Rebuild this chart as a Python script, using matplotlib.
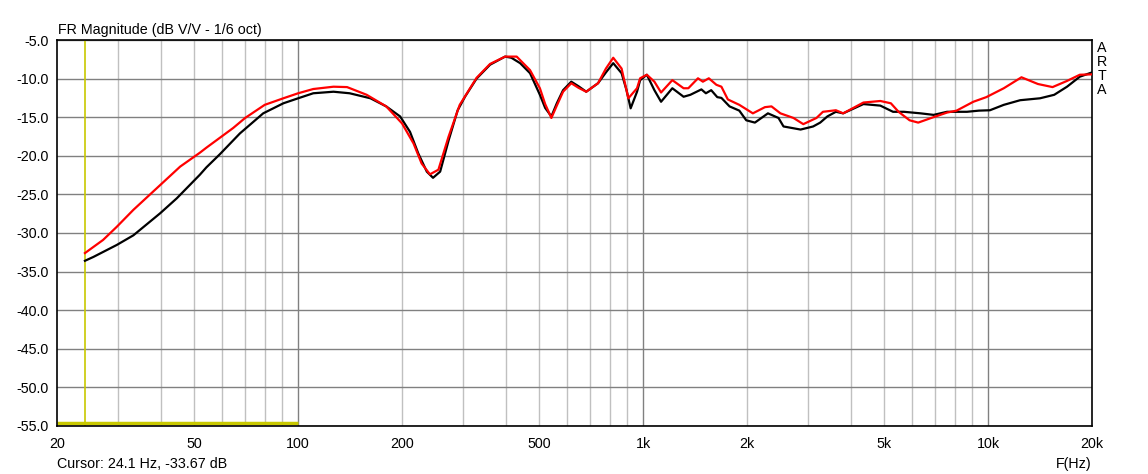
import numpy as np
import matplotlib
matplotlib.use('Agg')
import matplotlib.pyplot as plt
from matplotlib.ticker import FixedLocator, FuncFormatter

plt.rcParams['font.family'] = ['Liberation Sans', 'DejaVu Sans']

# black trace
freq_black = [24.1, 25.5, 29.8, 33.3, 39.8, 44.5, 51.9, 54.2, 59.3, 67.8, 79.2, 90.6, 100, 110.6, 126.6,
              141, 162, 180, 197.5, 211, 223, 236, 246, 258, 273, 290, 305, 329, 360, 398, 415, 440, 470,
              502, 520, 542, 562, 586, 619, 650, 684, 740, 780, 819, 866, 895, 920, 960, 980, 1025, 1078,
              1127, 1215, 1310, 1370, 1475, 1520, 1575, 1640, 1686, 1780, 1900, 1990, 2108, 2300, 2468,
              2552, 2860, 3110, 3260, 3420, 3620, 3800, 4350, 4870, 5300, 5700, 6370, 6950, 7600, 8680,
              9400, 10120, 11100, 12380, 14140, 15540, 16930, 18440, 20000]
db_black = [-33.6, -33.1, -31.55, -30.3, -27.45, -25.5, -22.45, -21.5, -19.8, -17.1, -14.5, -13.2, -12.55,
            -11.9, -11.7, -11.9, -12.55, -13.6, -14.9, -16.9, -19.7, -22.05, -22.85, -22.05, -18.0, -14.1,
            -12.3, -10.0, -8.2, -7.15, -7.3, -8.0, -9.3, -12.1, -13.8, -14.9, -13.2, -11.5, -10.4, -11.0,
            -11.7, -10.6, -9.2, -8.0, -9.3, -11.5, -13.85, -11.7, -10.2, -9.5, -11.5, -13.0, -11.25,
            -12.35, -12.1, -11.4, -11.9, -11.5, -12.4, -12.5, -13.6, -14.15, -15.4, -15.7, -14.5, -15.1,
            -16.2, -16.6, -16.2, -15.7, -14.9, -14.3, -14.5, -13.3, -13.5, -14.3, -14.3, -14.5, -14.7,
            -14.3, -14.3, -14.15, -14.1, -13.4, -12.8, -12.55, -12.1, -11.05, -9.75, -9.2]

# red trace
freq_red = [24.1, 27.2, 29.8, 33.3, 39.8, 45.5, 51.9, 54.2, 60, 64.8, 70.2, 80, 90.6, 100, 110.6, 126.6,
            138.6, 158, 180, 200, 216, 228, 241, 255, 273, 294, 329, 360, 398, 430, 470, 502, 520, 542,
            562, 586, 619, 650, 684, 740, 780, 819, 866, 906, 960, 980, 1025, 1078, 1127, 1215, 1310,
            1352, 1442, 1490, 1550, 1630, 1686, 1760, 1900, 2080, 2254, 2355, 2500, 2728, 2912, 3180,
            3320, 3620, 3800, 4350, 4870, 5225, 5500, 5920, 6270, 6840, 7600, 8100, 9060, 9880, 11100,
            12490, 13940, 15370, 16930, 18440, 20000]
db_red = [-32.6, -30.9, -29.2, -27.0, -23.8, -21.4, -19.6, -18.95, -17.5, -16.4, -15.1, -13.4, -12.55,
          -11.9, -11.35, -11.05, -11.1, -12.1, -13.6, -15.8, -18.4, -21.0, -22.4, -21.8, -17.5, -13.4,
          -9.9, -8.1, -7.15, -7.15, -8.9, -11.25, -13.3, -15.1, -13.5, -11.7, -10.6, -11.2, -11.7, -10.6,
          -8.7, -7.3, -8.7, -12.55, -11.25, -9.96, -9.5, -10.4, -11.8, -10.2, -11.25, -11.25, -9.96,
          -10.4, -9.96, -10.8, -11.05, -12.7, -13.4, -14.5, -13.7, -13.6, -14.5, -15.1, -15.9, -15.1,
          -14.3, -14.1, -14.5, -13.1, -12.9, -13.2, -14.3, -15.4, -15.7, -15.1, -14.4, -14.15, -13.0,
          -12.4, -11.25, -9.83, -10.7, -11.1, -10.3, -9.5, -9.45]

cursor_freq = 24.1
cursor_db = -33.67
y_ticks = np.arange(-55, -4, 5)
x_label_freqs = [20, 50, 100, 200, 500, 1000, 2000, 5000, 10000, 20000]
x_labels = ['20', '50', '100', '200', '500', '1k', '2k', '5k', '10k', '20k']

fs = 10.3
fig = plt.figure(figsize=(11.48, 4.74), dpi=100)
ax = fig.add_axes([57 / 1148, 1 - 426 / 474, (1092 - 57) / 1148, (426 - 40) / 474])

ax.set_xscale('log')
ax.set_xlim(20, 20000)
ax.set_ylim(-55, -5)

# grid: dark at decades and dB steps, light at the other log lines
major_x = [100, 1000, 10000]
minor_x = [m * d for d in [10, 100, 1000, 10000] for m in range(2, 10) if 20 < m * d < 20000]
for f in minor_x:
    ax.axvline(f, color='#c0c0c0', lw=1.0, zorder=1)
for f in major_x:
    ax.axvline(f, color='#808080', lw=1.0, zorder=1)
for v in y_ticks:
    ax.axhline(v, color='#808080', lw=1.0, zorder=1)

ax.xaxis.set_major_locator(FixedLocator(x_label_freqs))
ax.xaxis.set_minor_locator(FixedLocator([]))
ax.xaxis.set_major_formatter(FuncFormatter(lambda v, p: x_labels[x_label_freqs.index(int(round(v)))]
                                           if int(round(v)) in x_label_freqs else ''))
ax.yaxis.set_major_locator(FixedLocator(y_ticks))
ax.yaxis.set_major_formatter(FuncFormatter(lambda v, p: f'{v:.1f}'))
ax.tick_params(axis='both', length=0, labelsize=fs, colors='black')
ax.tick_params(axis='x', pad=8)
ax.tick_params(axis='y', pad=6)

for s in ax.spines.values():
    s.set_color('black')
    s.set_linewidth(1.2)

# cursor markers
ax.axvline(cursor_freq, color='#c8c800', lw=1.2, zorder=2)
ax.plot([20, 100], [-54.6, -54.6], color='#c8c800', lw=2.5, zorder=2, solid_capstyle='butt')

ax.plot(freq_black, db_black, color='black', lw=1.6, zorder=3)
ax.plot(freq_red, db_red, color='#ff0000', lw=1.6, zorder=4)

fig.text(58 / 1148, 1 - 34 / 474, 'FR Magnitude (dB V/V - 1/6 oct)', fontsize=fs, va='baseline')
fig.text(57 / 1148, 1 - 468 / 474, f'Cursor: {cursor_freq} Hz, {cursor_db} dB', fontsize=fs, va='baseline')
fig.text(1092 / 1148, 1 - 468 / 474, 'F(Hz)', fontsize=fs, va='baseline', ha='right')
for i, ch in enumerate('ARTA'):
    fig.text(1102 / 1148, 1 - (48 + 14 * i) / 474, ch, fontsize=fs, ha='center', va='center')

fig.savefig('out.png', dpi=100, facecolor='white')
